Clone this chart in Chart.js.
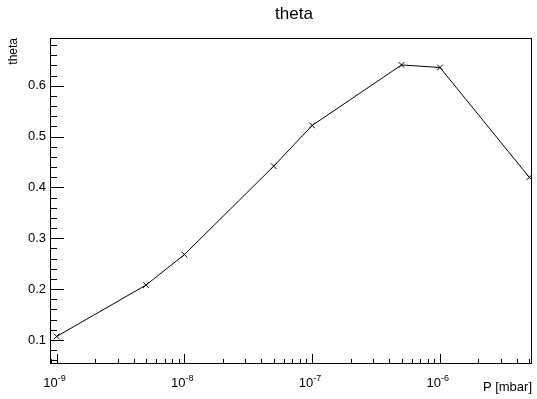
<!DOCTYPE html>
<html>
<head>
<meta charset="utf-8">
<script src="https://cdn.jsdelivr.net/npm/chart.js@4/dist/chart.umd.min.js"></script>
<style>
  html, body { margin: 0; padding: 0; background: #fff; }
  #wrap { width: 537px; height: 399px; }
</style>
</head>
<body>
<div id="wrap"><canvas id="grafico"></canvas></div>
<script>
const presion = [1e-9, 5e-9, 1e-8, 5e-8, 1e-7, 5e-7, 1e-6, 5e-6];
const theta = [0.107, 0.208, 0.268, 0.442, 0.522, 0.641, 0.636, 0.420];
const xMayores = [1e-9, 1e-8, 1e-7, 1e-6];
const xEtiquetas = ["-9", "-8", "-7", "-6"];
const yMayores = [0.1, 0.2, 0.3, 0.4, 0.5, 0.6];
const yEtiquetas = ["0.1", "0.2", "0.3", "0.4", "0.5", "0.6"];

const fuente = "'Liberation Sans', Arial, sans-serif";

// ejes estilo ROOT (ticks hacia adentro)
const ejesRoot = {
  id: "ejesRoot",
  afterDraw(chart) {
    const ctx = chart.ctx;
    const a = chart.chartArea;
    const sx = chart.scales.x;
    const sy = chart.scales.y;
    ctx.save();
    ctx.strokeStyle = "#000";
    ctx.lineWidth = 1;
    ctx.strokeRect(a.left + 0.5, a.top + 0.5, a.right - a.left - 1, a.bottom - a.top - 1);

    ctx.beginPath();
    // ticks menores y
    for (let v = 0.06; v < sy.max; v += 0.02) {
      const py = Math.round(sy.getPixelForValue(v)) + 0.5;
      const mayor = yMayores.some(m => Math.abs(m - v) < 1e-6);
      ctx.moveTo(a.left, py);
      ctx.lineTo(a.left + (mayor ? 14 : 7), py);
    }
    // ticks x (log)
    for (let e = -10; e <= -6; e++) {
      for (let k = 1; k <= 9; k++) {
        const v = k * Math.pow(10, e);
        if (v < sx.min || v > sx.max) continue;
        const px = Math.round(sx.getPixelForValue(v)) + 0.5;
        ctx.moveTo(px, a.bottom);
        ctx.lineTo(px, a.bottom - (k === 1 ? 10 : 5));
      }
    }
    ctx.stroke();

    ctx.fillStyle = "#000";
    ctx.font = "13px " + fuente;
    ctx.textAlign = "right";
    ctx.textBaseline = "middle";
    yMayores.forEach((v, i) => {
      ctx.fillText(yEtiquetas[i], a.left - 4, sy.getPixelForValue(v));
    });

    xMayores.forEach((v, i) => {
      const px = sx.getPixelForValue(v);
      ctx.font = "13px " + fuente;
      ctx.textAlign = "right";
      ctx.textBaseline = "alphabetic";
      ctx.fillText("10", px + 1, a.bottom + 23);
      ctx.font = "9px " + fuente;
      ctx.textAlign = "left";
      ctx.fillText(xEtiquetas[i], px + 1, a.bottom + 17);
    });

    ctx.font = "13px " + fuente;
    ctx.textAlign = "right";
    ctx.fillText("P [mbar]", a.right, a.bottom + 27);

    ctx.save();
    ctx.translate(17, a.top);
    ctx.rotate(-Math.PI / 2);
    ctx.font = "12px " + fuente;
    ctx.textAlign = "right";
    ctx.textBaseline = "alphabetic";
    ctx.fillText("theta", 0, 0);
    ctx.restore();

    ctx.font = "17px " + fuente;
    ctx.textAlign = "center";
    ctx.textBaseline = "middle";
    ctx.fillText("theta", 294, 14);
    ctx.restore();
  }
};

new Chart(document.getElementById("grafico"), {
  type: "line",
  data: {
    labels: presion,
    datasets: [{
      label: "theta",
      data: presion.map((p, i) => ({ x: p, y: theta[i] })),
      borderColor: "#000",
      borderWidth: 1,
      pointStyle: "crossRot",
      pointRadius: 4,
      pointBorderColor: "#000",
      pointBorderWidth: 1,
      tension: 0,
      fill: false
    }]
  },
  options: {
    responsive: true,
    maintainAspectRatio: false,
    animation: false,
    layout: { padding: { left: 50, right: 4, top: 38, bottom: 35 } },
    plugins: { legend: { display: false }, tooltip: { enabled: false } },
    scales: {
      x: { type: "logarithmic", min: 8.87e-10, max: 5.25e-6, display: false },
      y: { type: "linear", min: 0.0528, max: 0.694, display: false }
    }
  },
  plugins: [ejesRoot]
});
</script>
</body>
</html>
